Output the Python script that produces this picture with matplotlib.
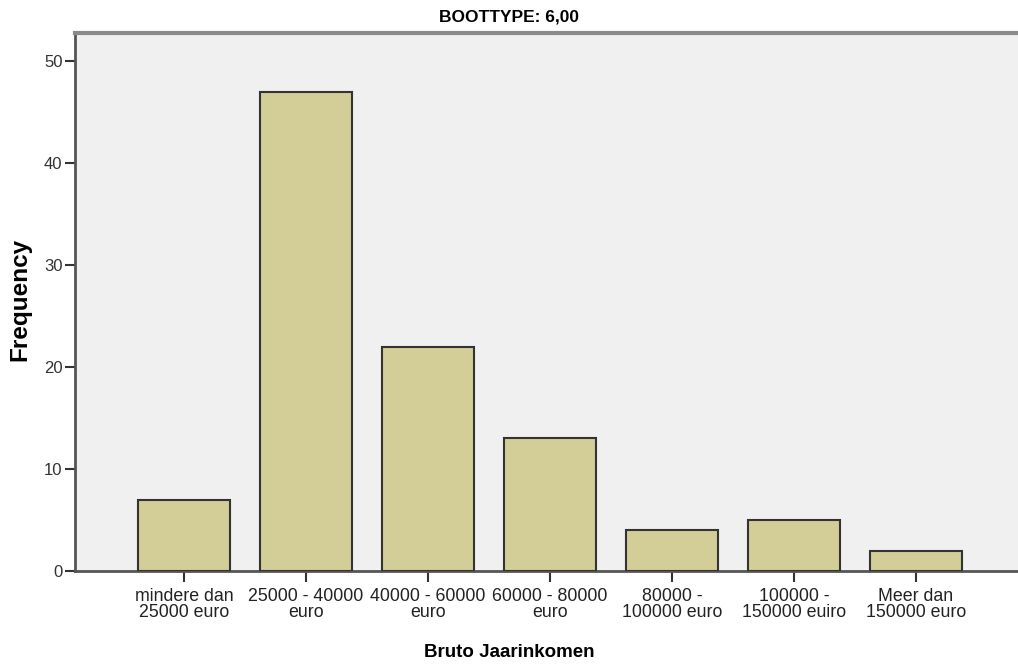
import matplotlib
matplotlib.use("Agg")
import matplotlib.pyplot as plt

categories = ["mindere dan\n25000 euro", "25000 - 40000\neuro", "40000 - 60000\neuro",
              "60000 - 80000\neuro", "80000 -\n100000 euro", "100000 -\n150000 euiro",
              "Meer dan\n150000 euro"]
frequencies = [7, 47, 22, 13, 4, 5, 2]
yticks = [0, 10, 20, 30, 40, 50]

plt.rcParams['font.family'] = ['Liberation Sans', 'DejaVu Sans']

fig = plt.figure(figsize=(10.18, 6.66), dpi=100)
ax = fig.add_axes([75/1018, 95/666, 1 - 75/1018, (571-33)/666])
ax.set_facecolor('#F0F0F0')

x = list(range(len(categories)))
ax.bar(x, frequencies, width=0.75, color='#D3CE97', edgecolor='#333333', linewidth=1.5, zorder=3)

ax.set_xlim(-0.893, 6.836)
ax.set_ylim(0, 52.75)
ax.set_yticks(yticks)
ax.set_xticks(x)
ax.set_xticklabels(categories, fontsize=12.8, linespacing=0.92, color='#222222')
ax.tick_params(axis='y', labelsize=12, length=7, width=1.5, color='#333333', pad=2, labelcolor='#333333')
ax.tick_params(axis='x', length=8, width=1.5, color='#333333', pad=4)

for s in ['left', 'bottom']:
    ax.spines[s].set_color('#555555')
    ax.spines[s].set_linewidth(2)
ax.spines['top'].set_color('#8a8a8a')
ax.spines['top'].set_linewidth(3)
ax.spines['right'].set_visible(False)

fig.text(0.5, 0.975, "BOOTTYPE: 6,00", ha='center', va='center', fontsize=12.5, fontweight='bold')
fig.text(0.5, 0.02, "Bruto Jaarinkomen", ha='center', va='center', fontsize=13.5, fontweight='bold')
fig.text(0.02, 0.55, "Frequency", ha='center', va='center', fontsize=17.5, fontweight='bold', rotation=90)

fig.savefig("out.png", dpi=100)
